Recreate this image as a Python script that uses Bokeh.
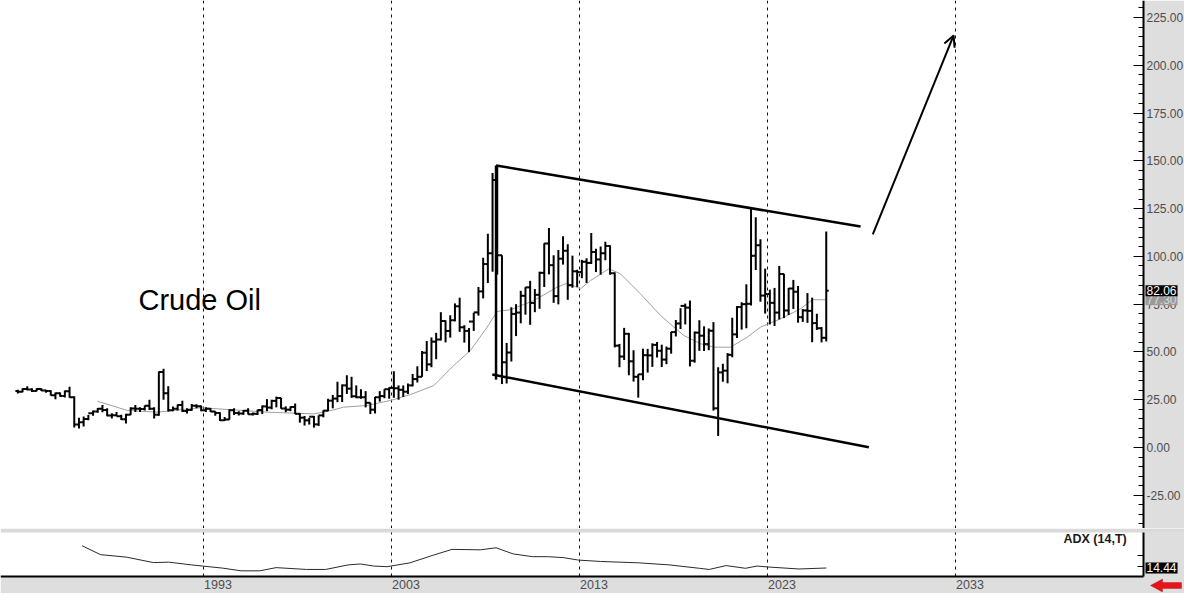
from bokeh.plotting import figure
from bokeh.layouts import column
from bokeh.models import (Range1d, Span, Label, Arrow, OpenHead, SingleIntervalTicker,
                          FixedTicker, NumeralTickFormatter, PolyAnnotation, ColumnDataSource,
                          CustomJSTickFormatter, LinearAxis, BoxAnnotation)
from bokeh.embed import file_html
from bokeh.resources import INLINE

# ---------------- data (quarterly crude oil OHLC) ----------------
quarters = [f"{y}Q{q}" for y in range(1983, 2026) for q in range(1, 5)] + ["2026Q1"]

ohlc_rows = [
    # 1983
    (29.5, 30.2, 28.3, 29.2), (29.2, 31.0, 28.9, 30.6), (30.6, 32.0, 30.0, 30.4), (30.4, 31.0, 29.0, 29.6),
    # 1984
    (29.6, 31.0, 29.4, 30.6), (30.6, 31.0, 29.5, 29.8), (29.8, 30.2, 28.6, 29.6), (29.6, 30.0, 27.2, 27.4),
    # 1985
    (27.4, 28.8, 25.2, 28.4), (28.4, 28.8, 26.5, 27.0), (27.0, 29.8, 26.2, 29.4), (29.4, 31.8, 26.0, 26.3),
    # 1986
    (26.3, 26.8, 10.4, 12.0), (12.0, 15.5, 10.0, 13.2), (13.2, 16.2, 11.0, 14.9), (14.9, 17.0, 14.2, 17.9),
    # 1987
    (17.9, 19.3, 16.6, 18.9), (18.9, 20.7, 18.2, 20.3), (20.3, 22.2, 18.4, 19.6), (19.6, 20.5, 16.4, 16.7),
    # 1988
    (16.7, 17.9, 15.2, 16.9), (16.9, 18.6, 16.3, 16.4), (16.4, 17.2, 14.4, 14.8), (14.8, 17.6, 12.6, 17.2),
    # 1989
    (17.2, 21.1, 17.0, 20.4), (20.4, 22.2, 18.6, 20.3), (20.3, 21.0, 18.6, 20.1), (20.1, 22.0, 19.4, 21.8),
    # 1990
    (21.8, 25.0, 19.6, 20.3), (20.3, 21.0, 15.2, 17.1), (17.1, 39.8, 16.6, 39.5), (39.5, 41.2, 25.0, 28.4),
    # 1991
    (28.4, 32.0, 18.8, 19.5), (19.5, 21.5, 19.0, 20.3), (20.3, 22.5, 19.4, 22.2), (22.2, 24.4, 18.6, 19.1),
    # 1992
    (19.1, 20.5, 17.8, 19.6), (19.6, 22.8, 19.2, 21.8), (21.8, 22.6, 20.6, 21.6), (21.6, 22.0, 19.0, 19.5),
    # 1993
    (19.5, 21.0, 18.6, 20.3), (20.3, 20.5, 18.6, 18.9), (18.9, 19.0, 16.6, 18.0), (18.0, 18.5, 13.9, 14.2),
    # 1994
    (14.2, 16.0, 13.9, 14.7), (14.7, 20.0, 14.5, 19.5), (19.5, 20.6, 17.0, 18.0), (18.0, 19.0, 16.7, 17.8),
    # 1995
    (17.8, 19.6, 17.2, 19.2), (19.2, 20.6, 17.3, 17.4), (17.4, 18.3, 16.8, 17.6), (17.6, 19.8, 17.0, 19.6),
    # 1996
    (19.6, 22.0, 17.5, 21.5), (21.5, 25.3, 19.0, 20.9), (20.9, 25.0, 20.0, 24.4), (24.4, 26.6, 21.0, 25.9),
    # 1997
    (25.9, 26.0, 20.3, 20.4), (20.4, 21.5, 18.5, 19.8), (19.8, 21.5, 19.0, 21.2), (21.2, 23.0, 17.5, 17.6),
    # 1998
    (17.6, 18.0, 13.0, 15.6), (15.6, 16.5, 11.5, 14.2), (14.2, 15.5, 12.0, 16.1), (16.1, 16.5, 10.4, 12.1),
    # 1999
    (12.1, 16.8, 11.3, 16.8), (16.8, 19.5, 15.8, 19.3), (19.3, 25.5, 19.0, 24.5), (24.5, 27.5, 20.5, 25.6),
    # 2000
    (25.6, 34.4, 23.7, 26.9), (26.9, 33.0, 23.8, 32.5), (32.5, 37.8, 28.0, 30.8), (30.8, 37.0, 26.0, 26.8),
    # 2001
    (26.8, 32.5, 25.8, 26.3), (26.3, 30.5, 25.5, 26.3), (26.3, 29.5, 21.0, 23.4), (23.4, 23.5, 17.5, 19.8),
    # 2002
    (19.8, 26.5, 17.8, 26.3), (26.3, 29.5, 24.0, 26.9), (26.9, 30.5, 25.8, 30.5), (30.5, 31.5, 25.5, 31.2),
    # 2003
    (31.2, 39.9, 26.0, 31.0), (31.0, 32.5, 25.0, 30.2), (30.2, 32.5, 26.5, 29.2), (29.2, 33.5, 28.0, 32.5),
    # 2004
    (32.5, 38.5, 32.0, 35.8), (35.8, 42.5, 34.0, 37.0), (37.0, 50.5, 37.0, 49.6), (49.6, 55.7, 40.0, 43.5),
    # 2005
    (43.5, 57.6, 42.0, 55.4), (55.4, 60.0, 46.2, 56.5), (56.5, 70.8, 56.0, 66.2), (66.2, 66.5, 55.0, 61.0),
    # 2006
    (61.0, 69.2, 57.5, 66.6), (66.6, 75.4, 66.0, 73.9), (73.9, 78.4, 60.5, 62.9), (62.9, 64.0, 54.9, 61.0),
    # 2007
    (61.0, 62.5, 49.9, 65.9), (65.9, 70.5, 61.0, 70.7), (70.7, 84.0, 69.0, 81.7), (81.7, 99.3, 78.0, 96.0),
    # 2008
    (96.0, 111.8, 86.1, 101.6), (101.6, 143.7, 92.0, 140.0), (140.0, 147.3, 90.5, 100.6), (100.6, 100.6, 33.2, 44.6),
    # 2009
    (44.6, 54.7, 33.5, 49.7), (49.7, 73.4, 45.0, 69.9), (69.9, 75.0, 58.3, 70.6), (70.6, 82.0, 65.0, 79.4),
    # 2010
    (79.4, 83.9, 69.5, 83.8), (83.8, 87.2, 64.2, 75.6), (75.6, 82.9, 70.8, 79.9), (79.9, 92.0, 72.6, 91.4),
    # 2011
    (91.4, 106.9, 84.0, 106.7), (106.7, 114.8, 90.6, 95.4), (95.4, 100.6, 75.7, 79.2), (79.2, 103.4, 74.9, 98.8),
    # 2012
    (98.8, 110.6, 95.7, 103.0), (103.0, 106.4, 77.3, 84.9), (84.9, 100.4, 83.6, 92.2), (92.2, 93.0, 84.0, 91.8),
    # 2013
    (91.8, 98.2, 88.6, 97.2), (97.2, 99.0, 86.1, 96.6), (96.6, 112.2, 96.0, 102.3), (102.3, 104.0, 91.8, 98.4),
    # 2014
    (98.4, 105.2, 90.4, 101.6), (101.6, 107.7, 98.0, 105.4), (105.4, 105.8, 90.4, 91.2), (91.2, 91.6, 52.4, 53.3),
    # 2015
    (53.3, 54.2, 42.0, 47.6), (47.6, 62.6, 45.8, 59.5), (59.5, 60.0, 37.8, 45.1), (45.1, 50.9, 34.5, 37.0),
    # 2016
    (37.0, 38.4, 26.1, 38.3), (38.3, 51.7, 35.2, 48.3), (48.3, 51.6, 39.2, 48.2), (48.2, 54.5, 42.2, 53.7),
    # 2017
    (53.7, 55.2, 47.1, 50.6), (50.6, 53.8, 42.1, 46.0), (46.0, 52.8, 43.6, 51.7), (51.7, 60.5, 49.1, 60.4),
    # 2018
    (60.4, 66.7, 58.1, 64.9), (64.9, 72.9, 62.0, 74.1), (74.1, 75.3, 64.4, 73.2), (73.2, 76.9, 42.4, 45.4),
    # 2019
    (45.4, 60.7, 44.4, 60.1), (60.1, 66.6, 50.6, 58.5), (58.5, 63.4, 50.5, 54.1), (54.1, 62.3, 50.9, 61.1),
    # 2020
    (61.1, 65.6, 19.3, 20.5), (20.5, 42.0, 6.0, 39.3), (39.3, 43.8, 34.4, 40.2), (40.2, 49.4, 33.6, 48.5),
    # 2021
    (48.5, 67.9, 47.2, 59.2), (59.2, 74.0, 57.3, 73.5), (73.5, 76.0, 61.7, 75.0), (75.0, 85.4, 62.4, 75.2),
    # 2022
    (75.2, 125.5, 74.3, 100.3), (100.3, 120.5, 92.9, 105.8), (105.8, 109.0, 76.3, 79.5), (79.5, 93.6, 70.1, 80.3),
    # 2023
    (80.3, 82.6, 64.4, 75.7), (75.7, 83.5, 63.6, 70.6), (70.6, 95.0, 67.0, 90.8), (90.8, 90.9, 67.7, 71.7),
    # 2024
    (71.7, 83.5, 69.3, 83.2), (83.2, 87.7, 72.5, 81.5), (81.5, 84.5, 65.3, 68.2), (68.2, 72.4, 65.7, 71.7),
    # 2025
    (71.7, 80.8, 65.2, 71.5), (71.5, 78.4, 55.1, 65.1), (65.1, 70.0, 61.5, 62.4), (62.4, 63.0, 55.0, 57.4),
    # 2026
    (57.4, 113.0, 55.5, 82.06),
]
opens = [r[0] for r in ohlc_rows]
highs = [r[1] for r in ohlc_rows]
lows = [r[2] for r in ohlc_rows]
closes = [r[3] for r in ohlc_rows]

# moving average (grey line)
ma_years = [1987.36, 1988.94, 1990.54, 1992.84, 1994.6, 1996.39, 1998.85, 1999.38, 1999.93, 2000.45,
            2001.71, 2002.95, 2004.01, 2005.25, 2006.31, 2007.2, 2008.09, 2008.62, 2009.33, 2010.57,
            2011.81, 2012.35, 2013.05, 2013.59, 2014.56, 2015.18, 2016.24, 2017.31, 2018.55, 2019.44,
            2020.14, 2021.03, 2021.92, 2022.63, 2023.69, 2024.76, 2025.38, 2026.13]
ma_values = [24.2, 19.4, 18.5, 20.8, 19.7, 18.5, 17.6, 18.5, 19.7, 21.1,
             22.0, 24.6, 27.7, 32.4, 42.9, 50.8, 63.0, 71.2, 72.1, 76.9,
             83.9, 86.0, 83.0, 87.4, 93.5, 90.9, 80.4, 69.1, 58.6, 54.3,
             52.5, 52.5, 57.7, 63.0, 67.3, 72.6, 77.3, 77.3]

# ADX (14,T)
adx_years = [1986.54, 1987.52, 1988.9, 1990.34, 1991.14, 1992.36, 1992.93, 1994.0, 1995.0, 1996.0,
             1996.86, 1998.48, 1999.5, 2000.7, 2001.35, 2002.04, 2002.76, 2003.98, 2005.2, 2006.22,
             2007.73, 2008.56, 2009.48, 2010.5, 2011.3, 2012.13, 2012.95, 2014.12, 2016.14, 2017.77,
             2019.38, 2019.9, 2020.8, 2021.83, 2022.44, 2022.99, 2024.68, 2026.13]
adx_values = [24.2, 20.3, 19.2, 16.8, 17.0, 15.8, 15.3, 14.4, 13.2, 13.2,
              14.6, 13.8, 13.8, 15.8, 16.2, 15.3, 15.0, 16.7, 20.0, 22.6,
              22.4, 23.3, 20.6, 19.4, 19.4, 19.0, 17.9, 17.3, 16.7, 15.8,
              14.3, 13.8, 15.5, 14.3, 15.3, 14.9, 14.0, 14.44]

grid_years = [1993, 2003, 2013, 2023, 2033]
last_close = 82.06
last_ma = 77.30
last_adx = 14.44

# drawn channel and projection arrow (year, price)
channel_upper = ([2008.56, 2027.95], [147.6, 115.6])
channel_lower = ([2008.36, 2028.39], [38.2, 0.16])
channel_edge = ([2008.56, 2008.56], [147.6, 35.5])
arrow_from = (2028.6, 111.5)
arrow_to = (2032.9, 215.6)

# ---------------- layout constants ----------------
W = 1184
PX_PER_YEAR = 18.8
X0 = 1993 - 203 / PX_PER_YEAR          # left edge of the canvas
X1 = X0 + W / PX_PER_YEAR               # right edge of the canvas
AXIS_X = X0 + 1143 / PX_PER_YEAR        # position of the price scale
TOP_H = 528
PRICE_LO, PRICE_HI = -42.39, 233.91
BOT_H = 593 - TOP_H
ADX_TOP, ADX_BOT = 30.0, 10.71          # ADX panel limits
ADX_LO, ADX_HI = 3.257, 31.754          # full lower canvas in ADX units
BORDER = "#dedede"
LBL = "#4d4d4d"
FONT = "Liberation Sans"

t = [int(q[:4]) + (int(q[-1]) - 1) * 0.25 + 0.125 for q in quarters]
src = ColumnDataSource(dict(t=t, o=opens, h=highs, l=lows, c=closes,
                            tl=[v - 0.13 for v in t], tr=[v + 0.13 for v in t]))


def base_fig(height, yr):
    f = figure(width=W, height=height, output_backend="svg", toolbar_location=None,
               x_range=Range1d(X0, X1), y_range=Range1d(*yr),
               x_axis_location=None, y_axis_location=None,
               min_border_left=0, min_border_top=0, min_border_bottom=0, min_border_right=0)
    f.border_fill_color = BORDER
    f.background_fill_color = "white"
    f.outline_line_color = None
    f.grid.visible = False
    f.add_layout(BoxAnnotation(left=AXIS_X, fill_color=BORDER, fill_alpha=1.0,
                               line_color=None, level="underlay"))
    return f


def style_y(ax):
    ax.axis_line_color = "black"
    ax.axis_line_width = 2
    ax.major_tick_out = 0
    ax.minor_tick_out = 0
    ax.major_tick_line_color = "black"
    ax.minor_tick_line_color = "black"
    ax.major_label_standoff = 3
    ax.major_label_text_font = FONT
    ax.major_label_text_font_size = "12px"
    ax.major_label_text_color = LBL


def value_box(x, y, text, bg, fg):
    return Label(x=x, y=y, x_offset=2, text=text, text_font=FONT, text_font_size="12px",
                 text_color=fg, text_baseline="middle", text_align="left",
                 background_fill_color=bg, background_fill_alpha=1.0, padding=1)


# ---------------- price panel ----------------
p = base_fig(TOP_H, (PRICE_LO, PRICE_HI))

ya = LinearAxis(fixed_location=AXIS_X,
                ticker=SingleIntervalTicker(interval=25, num_minor_ticks=5),
                formatter=NumeralTickFormatter(format="0.00"))
style_y(ya)
ya.major_tick_in = 10
ya.minor_tick_in = 5
p.add_layout(ya, "right")

for gy in grid_years:
    p.add_layout(Span(location=gy, dimension="height", line_color="#111111",
                      line_width=1, line_dash="3 4", level="underlay"))

p.line(ma_years, ma_values, line_color="#a0a0a0", line_width=1)
p.segment("t", "l", "t", "h", source=src, line_color="black", line_width=2)
p.segment("tl", "o", "t", "o", source=src, line_color="black", line_width=2)
p.segment("t", "c", "tr", "c", source=src, line_color="black", line_width=2)

for xs, ys in (channel_upper, channel_lower, channel_edge):
    p.line(xs, ys, line_color="black", line_width=2.5)
p.add_layout(Arrow(end=OpenHead(size=11, line_width=2, line_color="black"),
                   x_start=arrow_from[0], y_start=arrow_from[1],
                   x_end=arrow_to[0], y_end=arrow_to[1],
                   line_color="black", line_width=2))

p.add_layout(Label(x=X0 + 138 / PX_PER_YEAR, y=77.4, text="Crude Oil", text_font=FONT,
                   text_font_size="29px", text_color="black", text_baseline="middle"))

p.add_layout(value_box(AXIS_X, last_ma, f"{last_ma:.2f}", "#9a9a9a", "#d8d8d8"))
p.add_layout(value_box(AXIS_X, last_close, f"{last_close:.2f}", "black", "white"))

# ---------------- ADX panel (with time axis) ----------------
a = base_fig(BOT_H, (ADX_LO, ADX_HI))
a.add_layout(BoxAnnotation(bottom=ADX_TOP, fill_color="#d9d9d9", fill_alpha=1.0,
                           line_color=None, level="underlay"))
a.add_layout(BoxAnnotation(top=ADX_BOT, fill_color=BORDER, fill_alpha=1.0,
                           line_color=None, level="underlay"))

ay = LinearAxis(fixed_location=AXIS_X, bounds=(ADX_BOT, ADX_TOP),
                ticker=FixedTicker(ticks=[15, 20], minor_ticks=[]))
style_y(ay)
ay.major_tick_in = 6
ay.minor_tick_in = 0
ay.major_label_overrides = {15: "", 20: ""}
a.add_layout(ay, "right")

ax = LinearAxis(fixed_location=ADX_BOT, bounds=(X0, AXIS_X),
                ticker=FixedTicker(ticks=[g + 0.77 for g in grid_years], minor_ticks=[]),
                formatter=CustomJSTickFormatter(code="return Math.floor(tick).toString();"))
ax.axis_line_color = "black"
ax.axis_line_width = 2
ax.major_tick_in = 0
ax.major_tick_out = 0
ax.minor_tick_in = 0
ax.minor_tick_out = 0
ax.major_label_standoff = 3
ax.major_label_text_font = FONT
ax.major_label_text_font_size = "12.5px"
ax.major_label_text_color = LBL
a.add_layout(ax, "below")

a.segment(x0=grid_years, y0=[ADX_BOT] * len(grid_years), x1=grid_years, y1=[ADX_TOP] * len(grid_years),
          line_color="#111111", line_width=1, line_dash="3 4")

a.line(adx_years, adx_values, line_color="#2a2a2a", line_width=1)

px_per_adx = (593 - TOP_H) / (ADX_HI - ADX_LO)


def sx(px):
    return X0 + px / PX_PER_YEAR


def sy(py):
    return ADX_HI - (py - TOP_H) / px_per_adx


a.add_layout(Label(x=sx(1063), y=sy(538), text="ADX (14,T)", text_font=FONT, text_font_size="12.5px",
                   text_font_style="bold", text_color="#1a1a1a", text_baseline="middle"))
a.add_layout(value_box(AXIS_X, last_adx, f"{last_adx:.2f}", "black", "white"))

# red arrow in the lower-right corner
arrow_px = [(1150, 585), (1162, 578.5), (1162, 582), (1181, 582),
            (1181, 588), (1162, 588), (1162, 591.5)]
a.add_layout(PolyAnnotation(xs=[sx(x) for x, _ in arrow_px], ys=[sy(y) for _, y in arrow_px],
                            fill_color="#e8141a", fill_alpha=1.0, line_color="#7a0000", line_width=1))

layout = column(p, a, spacing=0)
open("out.html", "w").write(file_html(layout, INLINE))
